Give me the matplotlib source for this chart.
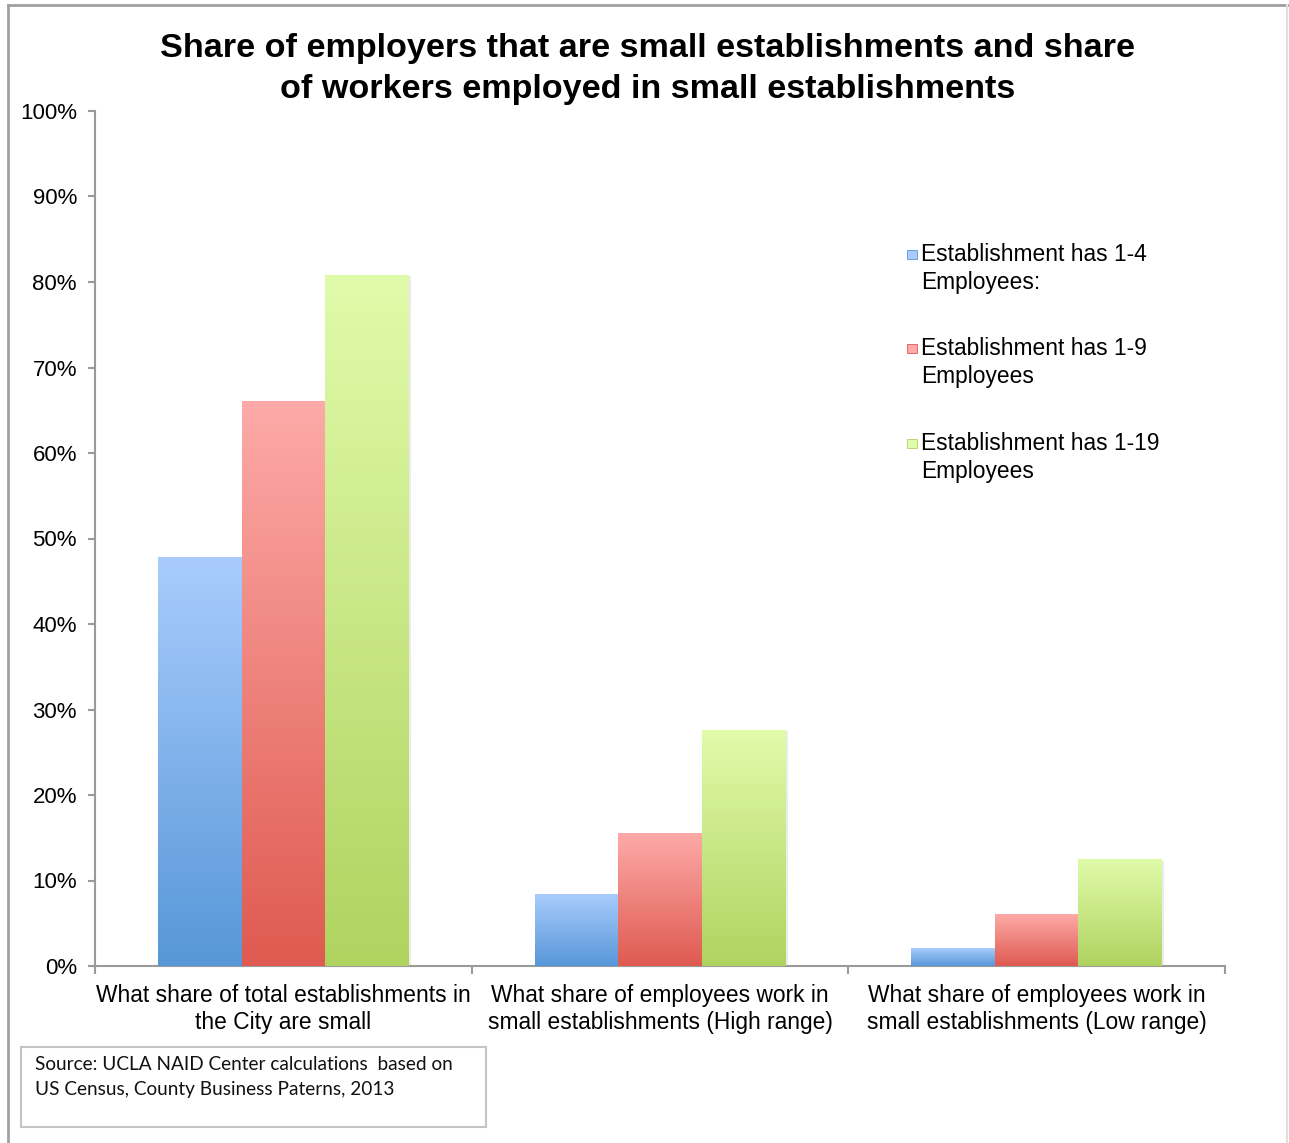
import numpy as np
import matplotlib.pyplot as plt
from matplotlib.colors import LinearSegmentedColormap
from matplotlib.patches import Rectangle
from matplotlib.lines import Line2D

# Data
categories = ["What share of total establishments in\nthe City are small",
              "What share of employees work in\nsmall establishments (High range)",
              "What share of employees work in\nsmall establishments (Low range)"]
series_labels = ["Establishment has 1-4\nEmployees:",
                 "Establishment has 1-9\nEmployees",
                 "Establishment has 1-19\nEmployees"]
share_1_4 = [47.8, 8.4, 2.1]
share_1_9 = [66.0, 15.5, 6.0]
share_1_19 = [80.8, 27.6, 12.4]
y_ticks = [0, 10, 20, 30, 40, 50, 60, 70, 80, 90, 100]

# (bottom colour, top colour) for the vertical gradients
gradients = [("#5797d8", "#a9ccfd"), ("#df5a50", "#fdaaa8"), ("#b0d360", "#e0fbaa")]

plt.rcParams['font.family'] = ['Liberation Sans', 'DejaVu Sans']

W, H = 1289, 1143
fig = plt.figure(figsize=(W / 100, H / 100), dpi=100)
ax = fig.add_axes([95 / W, 1 - 966 / H, (1225 - 95) / W, (966 - 111) / H])

x = np.arange(len(categories))
width = 0.222
for i, values in enumerate([share_1_4, share_1_9, share_1_19]):
    bars = ax.bar(x + (i - 1) * width, values, width, color=gradients[i][1],
                  linewidth=0, zorder=2)
    cmap = LinearSegmentedColormap.from_list("g%d" % i, list(gradients[i]))
    for bar in bars:
        x0, w, h = bar.get_x(), bar.get_width(), bar.get_height()
        # soft shadow to the right
        ax.add_patch(Rectangle((x0 + 0.006, 0), w, h - 0.15, color="#000000",
                               alpha=0.08, linewidth=0, zorder=1))
        grad = np.linspace(0, 1, 256).reshape(-1, 1)
        ax.imshow(grad, extent=[x0, x0 + w, 0, h], origin="lower", aspect="auto",
                  cmap=cmap, zorder=3, interpolation="bicubic")

ax.set_xlim(-0.5, len(categories) - 0.5)
ax.set_ylim(0, 100)

ax.set_yticks(y_ticks)
ax.set_yticklabels(["%d%%" % t for t in y_ticks], fontsize=16)
ax.tick_params(axis="y", length=5, width=1.5, color="#9a9a9a", pad=8)

ax.set_xticks(x)
ax.set_xticklabels(categories, fontsize=16.4, linespacing=1.22)
ax.tick_params(axis="x", which="major", length=0, pad=13)
ax.set_xticks(np.arange(len(categories) + 1) - 0.5, minor=True)
ax.tick_params(axis="x", which="minor", length=6, width=1.5, color="#9a9a9a")

for side in ["top", "right"]:
    ax.spines[side].set_visible(False)
for side in ["left", "bottom"]:
    ax.spines[side].set_color("#9a9a9a")
    ax.spines[side].set_linewidth(1.5)

# Title
fig.text(648 / W, 1 - 69 / H,
         "Share of employers that are small establishments and share\nof workers employed in small establishments",
         ha="center", va="center", fontsize=24.6, fontweight="bold", linespacing=1.4)

# Legend
legend_y = [256, 350, 445]
for i, label in enumerate(series_labels):
    yc = legend_y[i]
    fig.patches.append(Rectangle((907 / W, 1 - (yc + 3) / H), 10 / W, 9 / H,
                                 transform=fig.transFigure, color=gradients[i][1],
                                 ec=gradients[i][0], lw=0.6))
    fig.text(921 / W, 1 - (yc - 13) / H, label, ha="left", va="top",
             fontsize=16.4, linespacing=1.28)

# Source box
fig.patches.append(Rectangle((21 / W, 1 - 1127 / H), 465 / W, 80 / H,
                             transform=fig.transFigure, fill=False,
                             ec="#c4c4c4", lw=1.5))
fig.text(35 / W, 1 - 1056 / H,
         "Source: UCLA NAID Center calculations  based on\nUS Census, County Business Paterns, 2013",
         ha="left", va="top", fontsize=13.7, family=["Lato", "DejaVu Sans"],
         linespacing=1.55, color="#111111")

# Outer frame
fig.lines.append(Line2D([8 / W, 8 / W], [0, 1 - 5 / H], transform=fig.transFigure,
                        color="#a0a0a0", lw=2))
fig.lines.append(Line2D([8 / W, 1], [1 - 5 / H, 1 - 5 / H], transform=fig.transFigure,
                        color="#a0a0a0", lw=2))
fig.lines.append(Line2D([1287 / W, 1287 / W], [0, 1 - 5 / H], transform=fig.transFigure,
                        color="#e0e0e0", lw=1.5))

fig.savefig("out.png", dpi=100)
